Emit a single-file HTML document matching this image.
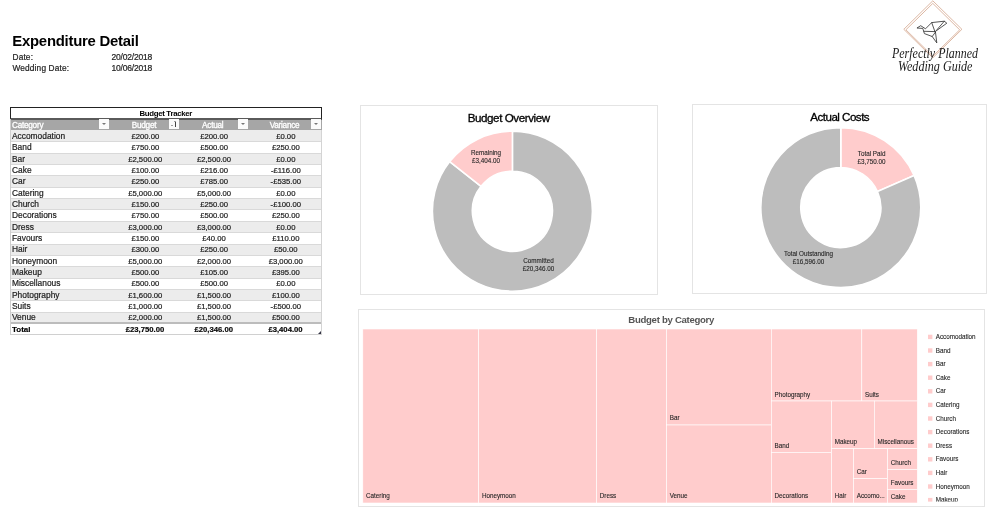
<!DOCTYPE html>
<html lang="en"><head><meta charset="utf-8"><title>Expenditure Detail</title>
<style>
html,body{margin:0;padding:0;background:#fff;}
body{width:1005px;height:513px;position:relative;overflow:hidden;font-family:"Liberation Sans",sans-serif;color:#1a1a1a;}
.abs{position:absolute;white-space:nowrap;}
h1{position:absolute;margin:0;left:12.3px;top:32.6px;font-size:14.9px;letter-spacing:-0.245px;line-height:16px;font-weight:bold;color:#000;white-space:nowrap;}
.lbl{position:absolute;font-size:8.3px;letter-spacing:0.15px;line-height:11px;white-space:nowrap;color:#222;-webkit-text-stroke:0.2px #222;}
.num{font-size:8.5px;letter-spacing:-0.19px;}
.tbl{position:absolute;left:0;top:0;}
.row{position:absolute;left:10px;width:311.5px;height:11.34px;box-shadow:inset 0 1px 0 #d9d9d9;}
.row.odd{background:#ececec;}
.row.even{background:#fff;}
.c{position:absolute;top:0.9px;height:11.34px;line-height:11.6px;font-size:8.4px;white-space:nowrap;color:#1c1c1c;-webkit-text-stroke:0.2px #1c1c1c;}
.c.n{font-size:7.7px;text-align:center;}
.hd{position:absolute;top:120px;height:10px;-webkit-text-stroke:0.3px #fff;background:#a6a6a6;color:#fff;font-size:8.2px;letter-spacing:-0.25px;line-height:12.2px;overflow:hidden;white-space:nowrap;}
.btn{position:absolute;top:119px;width:10.2px;height:10px;background:#fbfbfb;}
.btn.dd:after{content:"";position:absolute;left:3.2px;top:4.4px;border-left:2px solid transparent;border-right:2px solid transparent;border-top:2px solid #777;}
.box{position:absolute;border:1px solid #e4e4e4;background:#fff;box-sizing:border-box;}
svg{position:absolute;left:0;top:0;}
svg text{font-family:"Liberation Sans",sans-serif;}
</style></head><body>

<h1>Expenditure Detail</h1>
<div class="lbl" style="left:12.5px;top:52.2px;">Date:</div>
<div class="lbl num" style="left:111.5px;top:52.2px;">20/02/2018</div>
<div class="lbl" style="left:12.5px;top:63.3px;">Wedding Date:</div>
<div class="lbl num" style="left:111.5px;top:63.3px;">10/06/2018</div>
<div class="abs" style="left:10px;top:107px;width:311.5px;height:13px;box-sizing:border-box;border:1px solid #222;border-bottom:2px solid #5a5a5a;background:#fff;text-align:center;font-weight:bold;font-size:7.8px;letter-spacing:-0.3px;line-height:11.6px;color:#000;">Budget Tracker</div>
<div class="hd" style="left:10px;width:100px;text-indent:2px;">Category</div>
<div class="hd" style="left:110px;width:68px;text-align:center;">Budget</div>
<div class="hd" style="left:178px;width:69.5px;text-align:center;">Actual</div>
<div class="hd" style="left:247.5px;width:74.0px;text-align:center;">Variance</div>
<div class="btn dd" style="left:98.8px;"></div>
<div class="btn" style="left:168.5px;"><i style="position:absolute;left:2.4px;top:6.2px;border-left:1.6px solid transparent;border-right:1.6px solid transparent;border-top:1.8px solid #444;"></i><i style="position:absolute;left:6.8px;top:2.6px;width:0.9px;height:5.2px;background:#444;"></i><i style="position:absolute;left:5.75px;top:2px;border-left:1.5px solid transparent;border-right:1.5px solid transparent;border-bottom:1.8px solid #444;"></i></div>
<div class="btn dd" style="left:237.5px;"></div>
<div class="btn dd" style="left:310.6px;"></div>
<div class="row odd" style="top:130.10px;box-shadow:none;">
<div class="c" style="left:2px;">Accomodation</div>
<div class="c n" style="left:101.3px;width:68px;">£200.00</div>
<div class="c n" style="left:169.3px;width:69.5px;">£200.00</div>
<div class="c n" style="left:238.8px;width:74.0px;">£0.00</div>
</div>
<div class="row even" style="top:141.44px;">
<div class="c" style="left:2px;">Band</div>
<div class="c n" style="left:101.3px;width:68px;">£750.00</div>
<div class="c n" style="left:169.3px;width:69.5px;">£500.00</div>
<div class="c n" style="left:238.8px;width:74.0px;">£250.00</div>
</div>
<div class="row odd" style="top:152.78px;">
<div class="c" style="left:2px;">Bar</div>
<div class="c n" style="left:101.3px;width:68px;">£2,500.00</div>
<div class="c n" style="left:169.3px;width:69.5px;">£2,500.00</div>
<div class="c n" style="left:238.8px;width:74.0px;">£0.00</div>
</div>
<div class="row even" style="top:164.12px;">
<div class="c" style="left:2px;">Cake</div>
<div class="c n" style="left:101.3px;width:68px;">£100.00</div>
<div class="c n" style="left:169.3px;width:69.5px;">£216.00</div>
<div class="c n" style="left:238.8px;width:74.0px;">-£116.00</div>
</div>
<div class="row odd" style="top:175.46px;">
<div class="c" style="left:2px;">Car</div>
<div class="c n" style="left:101.3px;width:68px;">£250.00</div>
<div class="c n" style="left:169.3px;width:69.5px;">£785.00</div>
<div class="c n" style="left:238.8px;width:74.0px;">-£535.00</div>
</div>
<div class="row even" style="top:186.80px;">
<div class="c" style="left:2px;">Catering</div>
<div class="c n" style="left:101.3px;width:68px;">£5,000.00</div>
<div class="c n" style="left:169.3px;width:69.5px;">£5,000.00</div>
<div class="c n" style="left:238.8px;width:74.0px;">£0.00</div>
</div>
<div class="row odd" style="top:198.14px;">
<div class="c" style="left:2px;">Church</div>
<div class="c n" style="left:101.3px;width:68px;">£150.00</div>
<div class="c n" style="left:169.3px;width:69.5px;">£250.00</div>
<div class="c n" style="left:238.8px;width:74.0px;">-£100.00</div>
</div>
<div class="row even" style="top:209.48px;">
<div class="c" style="left:2px;">Decorations</div>
<div class="c n" style="left:101.3px;width:68px;">£750.00</div>
<div class="c n" style="left:169.3px;width:69.5px;">£500.00</div>
<div class="c n" style="left:238.8px;width:74.0px;">£250.00</div>
</div>
<div class="row odd" style="top:220.82px;">
<div class="c" style="left:2px;">Dress</div>
<div class="c n" style="left:101.3px;width:68px;">£3,000.00</div>
<div class="c n" style="left:169.3px;width:69.5px;">£3,000.00</div>
<div class="c n" style="left:238.8px;width:74.0px;">£0.00</div>
</div>
<div class="row even" style="top:232.16px;">
<div class="c" style="left:2px;">Favours</div>
<div class="c n" style="left:101.3px;width:68px;">£150.00</div>
<div class="c n" style="left:169.3px;width:69.5px;">£40.00</div>
<div class="c n" style="left:238.8px;width:74.0px;">£110.00</div>
</div>
<div class="row odd" style="top:243.50px;">
<div class="c" style="left:2px;">Hair</div>
<div class="c n" style="left:101.3px;width:68px;">£300.00</div>
<div class="c n" style="left:169.3px;width:69.5px;">£250.00</div>
<div class="c n" style="left:238.8px;width:74.0px;">£50.00</div>
</div>
<div class="row even" style="top:254.84px;">
<div class="c" style="left:2px;">Honeymoon</div>
<div class="c n" style="left:101.3px;width:68px;">£5,000.00</div>
<div class="c n" style="left:169.3px;width:69.5px;">£2,000.00</div>
<div class="c n" style="left:238.8px;width:74.0px;">£3,000.00</div>
</div>
<div class="row odd" style="top:266.18px;">
<div class="c" style="left:2px;">Makeup</div>
<div class="c n" style="left:101.3px;width:68px;">£500.00</div>
<div class="c n" style="left:169.3px;width:69.5px;">£105.00</div>
<div class="c n" style="left:238.8px;width:74.0px;">£395.00</div>
</div>
<div class="row even" style="top:277.52px;">
<div class="c" style="left:2px;">Miscellanous</div>
<div class="c n" style="left:101.3px;width:68px;">£500.00</div>
<div class="c n" style="left:169.3px;width:69.5px;">£500.00</div>
<div class="c n" style="left:238.8px;width:74.0px;">£0.00</div>
</div>
<div class="row odd" style="top:288.86px;">
<div class="c" style="left:2px;">Photography</div>
<div class="c n" style="left:101.3px;width:68px;">£1,600.00</div>
<div class="c n" style="left:169.3px;width:69.5px;">£1,500.00</div>
<div class="c n" style="left:238.8px;width:74.0px;">£100.00</div>
</div>
<div class="row even" style="top:300.20px;">
<div class="c" style="left:2px;">Suits</div>
<div class="c n" style="left:101.3px;width:68px;">£1,000.00</div>
<div class="c n" style="left:169.3px;width:69.5px;">£1,500.00</div>
<div class="c n" style="left:238.8px;width:74.0px;">-£500.00</div>
</div>
<div class="row odd" style="top:311.54px;">
<div class="c" style="left:2px;">Venue</div>
<div class="c n" style="left:101.3px;width:68px;">£2,000.00</div>
<div class="c n" style="left:169.3px;width:69.5px;">£1,500.00</div>
<div class="c n" style="left:238.8px;width:74.0px;">£500.00</div>
</div>
<div class="row" style="top:322.28px;height:12.3px;background:#fff;border-top:2px solid #bcbcbc;border-bottom:1px solid #d0d0d0;font-weight:bold;box-sizing:border-box;box-shadow:none;">
<div class="c" style="left:2px;top:-0.5px;color:#000;font-size:8px;">Total</div>
<div class="c n" style="left:101px;width:68px;top:-0.5px;color:#000;">£23,750.00</div>
<div class="c n" style="left:169px;width:69.5px;top:-0.5px;color:#000;">£20,346.00</div>
<div class="c n" style="left:238.5px;width:74.0px;top:-0.5px;color:#000;">£3,404.00</div>
</div>
<div class="abs" style="left:10px;top:119px;width:1px;height:215.5px;background:#cfcfcf;"></div>
<div class="abs" style="left:321px;top:130px;width:1px;height:204.5px;background:#d4d4d4;"></div>
<div class="abs" style="left:318px;top:331px;width:0;height:0;border-left:3.5px solid transparent;border-bottom:3.5px solid #334;"></div>
<div class="box" style="left:360px;top:105px;width:298px;height:189.5px;"></div>
<div class="box" style="left:692px;top:104px;width:295px;height:189.5px;"></div>
<div class="box" style="left:358px;top:309px;width:626.5px;height:198.3px;"></div>
<svg width="1005" height="513" viewBox="0 0 1005 513">
<path d="M512.40 131.20A80 80 0 1 1 449.71 161.51L481.05 186.35A40 40 0 1 0 512.40 171.20Z" fill="#bdbdbd" stroke="#fff" stroke-width="1.6" stroke-linejoin="round"/><path d="M449.71 161.51A80 80 0 0 1 512.40 131.20L512.40 171.20A40 40 0 0 0 481.05 186.35Z" fill="#ffcccc" stroke="#fff" stroke-width="1.6" stroke-linejoin="round"/>
<path d="M840.80 127.60A80 80 0 0 1 914.08 175.51L877.44 191.56A40 40 0 0 0 840.80 167.60Z" fill="#ffcccc" stroke="#fff" stroke-width="1.6" stroke-linejoin="round"/><path d="M914.08 175.51A80 80 0 1 1 840.80 127.60L840.80 167.60A40 40 0 1 0 877.44 191.56Z" fill="#bdbdbd" stroke="#fff" stroke-width="1.6" stroke-linejoin="round"/>
<text x="508.7" y="122" text-anchor="middle" font-size="11.6" letter-spacing="-0.42" fill="#000" stroke="#000" stroke-width="0.3">Budget Overview</text>
<text x="839.7" y="120.8" text-anchor="middle" font-size="11.6" letter-spacing="-0.52" fill="#000" stroke="#000" stroke-width="0.3">Actual Costs</text>
<text x="486" y="155.0" text-anchor="middle" font-size="6.3" fill="#262626" stroke="#262626" stroke-width="0.1">Remaining</text>
<text x="486" y="163.1" text-anchor="middle" font-size="6.3" fill="#262626" stroke="#262626" stroke-width="0.1">£3,404.00</text>
<text x="538.5" y="263.0" text-anchor="middle" font-size="6.3" fill="#262626" stroke="#262626" stroke-width="0.1">Committed</text>
<text x="538.5" y="271.1" text-anchor="middle" font-size="6.3" fill="#262626" stroke="#262626" stroke-width="0.1">£20,346.00</text>
<text x="871.6" y="155.5" text-anchor="middle" font-size="6.3" fill="#262626" stroke="#262626" stroke-width="0.1">Total Paid</text>
<text x="871.6" y="163.6" text-anchor="middle" font-size="6.3" fill="#262626" stroke="#262626" stroke-width="0.1">£3,750.00</text>
<text x="808.5" y="255.5" text-anchor="middle" font-size="6.3" fill="#262626" stroke="#262626" stroke-width="0.1">Total Outstanding</text>
<text x="808.5" y="263.6" text-anchor="middle" font-size="6.3" fill="#262626" stroke="#262626" stroke-width="0.1">£16,596.00</text>
<text x="671.2" y="323" text-anchor="middle" font-size="9.6" letter-spacing="-0.3" font-weight="bold" fill="#555">Budget by Category</text>
<rect x="362.8" y="329" width="115.90" height="174.00" fill="#ffcccc" stroke="#fff" stroke-width="0.6"/>
<rect x="478.7" y="329" width="117.90" height="174.00" fill="#ffcccc" stroke="#fff" stroke-width="0.6"/>
<rect x="596.6" y="329" width="69.90" height="174.00" fill="#ffcccc" stroke="#fff" stroke-width="0.6"/>
<rect x="666.5" y="329" width="104.80" height="96.00" fill="#ffcccc" stroke="#fff" stroke-width="0.6"/>
<rect x="666.5" y="425" width="104.80" height="78.00" fill="#ffcccc" stroke="#fff" stroke-width="0.6"/>
<rect x="771.3" y="329" width="90.50" height="72.00" fill="#ffcccc" stroke="#fff" stroke-width="0.6"/>
<rect x="861.8" y="329" width="55.50" height="72.00" fill="#ffcccc" stroke="#fff" stroke-width="0.6"/>
<rect x="771.3" y="401" width="60.20" height="51.40" fill="#ffcccc" stroke="#fff" stroke-width="0.6"/>
<rect x="771.3" y="452.4" width="60.20" height="50.60" fill="#ffcccc" stroke="#fff" stroke-width="0.6"/>
<rect x="831.5" y="401" width="42.80" height="47.70" fill="#ffcccc" stroke="#fff" stroke-width="0.6"/>
<rect x="874.3" y="401" width="43.00" height="47.70" fill="#ffcccc" stroke="#fff" stroke-width="0.6"/>
<rect x="831.5" y="448.7" width="22.00" height="54.30" fill="#ffcccc" stroke="#fff" stroke-width="0.6"/>
<rect x="853.5" y="448.7" width="34.00" height="29.90" fill="#ffcccc" stroke="#fff" stroke-width="0.6"/>
<rect x="853.5" y="478.6" width="34.00" height="24.40" fill="#ffcccc" stroke="#fff" stroke-width="0.6"/>
<rect x="887.5" y="448.7" width="29.80" height="20.70" fill="#ffcccc" stroke="#fff" stroke-width="0.6"/>
<rect x="887.5" y="469.4" width="29.80" height="20.00" fill="#ffcccc" stroke="#fff" stroke-width="0.6"/>
<rect x="887.5" y="489.4" width="29.80" height="13.60" fill="#ffcccc" stroke="#fff" stroke-width="0.6"/>
<text x="366.0" y="497.8" font-size="6.3" fill="#262626" stroke="#262626" stroke-width="0.1">Catering</text>
<text x="481.9" y="497.8" font-size="6.3" fill="#262626" stroke="#262626" stroke-width="0.1">Honeymoon</text>
<text x="599.8" y="497.8" font-size="6.3" fill="#262626" stroke="#262626" stroke-width="0.1">Dress</text>
<text x="669.7" y="420.2" font-size="6.3" fill="#262626" stroke="#262626" stroke-width="0.1">Bar</text>
<text x="669.7" y="497.8" font-size="6.3" fill="#262626" stroke="#262626" stroke-width="0.1">Venue</text>
<text x="774.5" y="396.8" font-size="6.3" fill="#262626" stroke="#262626" stroke-width="0.1">Photography</text>
<text x="865.0" y="396.8" font-size="6.3" fill="#262626" stroke="#262626" stroke-width="0.1">Suits</text>
<text x="774.5" y="447.6" font-size="6.3" fill="#262626" stroke="#262626" stroke-width="0.1">Band</text>
<text x="774.5" y="497.8" font-size="6.3" fill="#262626" stroke="#262626" stroke-width="0.1">Decorations</text>
<text x="834.7" y="443.9" font-size="6.3" fill="#262626" stroke="#262626" stroke-width="0.1">Makeup</text>
<text x="877.5" y="443.9" font-size="6.3" fill="#262626" stroke="#262626" stroke-width="0.1">Miscellanous</text>
<text x="834.7" y="497.8" font-size="6.3" fill="#262626" stroke="#262626" stroke-width="0.1">Hair</text>
<text x="856.7" y="473.8" font-size="6.3" fill="#262626" stroke="#262626" stroke-width="0.1">Car</text>
<text x="856.7" y="497.8" font-size="6.3" fill="#262626" stroke="#262626" stroke-width="0.1">Accomo...</text>
<text x="890.7" y="464.6" font-size="6.3" fill="#262626" stroke="#262626" stroke-width="0.1">Church</text>
<text x="890.7" y="484.6" font-size="6.3" fill="#262626" stroke="#262626" stroke-width="0.1">Favours</text>
<text x="890.7" y="499.0" font-size="6.3" fill="#262626" stroke="#262626" stroke-width="0.1">Cake</text>
<rect x="928" y="334.7" width="4.4" height="4.4" fill="#ffcccc"/>
<text x="935.7" y="339.0" font-size="6.3" fill="#262626" stroke="#262626" stroke-width="0.1">Accomodation</text>
<rect x="928" y="348.3" width="4.4" height="4.4" fill="#ffcccc"/>
<text x="935.7" y="352.6" font-size="6.3" fill="#262626" stroke="#262626" stroke-width="0.1">Band</text>
<rect x="928" y="361.9" width="4.4" height="4.4" fill="#ffcccc"/>
<text x="935.7" y="366.2" font-size="6.3" fill="#262626" stroke="#262626" stroke-width="0.1">Bar</text>
<rect x="928" y="375.5" width="4.4" height="4.4" fill="#ffcccc"/>
<text x="935.7" y="379.8" font-size="6.3" fill="#262626" stroke="#262626" stroke-width="0.1">Cake</text>
<rect x="928" y="389.1" width="4.4" height="4.4" fill="#ffcccc"/>
<text x="935.7" y="393.4" font-size="6.3" fill="#262626" stroke="#262626" stroke-width="0.1">Car</text>
<rect x="928" y="402.7" width="4.4" height="4.4" fill="#ffcccc"/>
<text x="935.7" y="407.0" font-size="6.3" fill="#262626" stroke="#262626" stroke-width="0.1">Catering</text>
<rect x="928" y="416.3" width="4.4" height="4.4" fill="#ffcccc"/>
<text x="935.7" y="420.6" font-size="6.3" fill="#262626" stroke="#262626" stroke-width="0.1">Church</text>
<rect x="928" y="429.9" width="4.4" height="4.4" fill="#ffcccc"/>
<text x="935.7" y="434.2" font-size="6.3" fill="#262626" stroke="#262626" stroke-width="0.1">Decorations</text>
<rect x="928" y="443.5" width="4.4" height="4.4" fill="#ffcccc"/>
<text x="935.7" y="447.8" font-size="6.3" fill="#262626" stroke="#262626" stroke-width="0.1">Dress</text>
<rect x="928" y="457.1" width="4.4" height="4.4" fill="#ffcccc"/>
<text x="935.7" y="461.4" font-size="6.3" fill="#262626" stroke="#262626" stroke-width="0.1">Favours</text>
<rect x="928" y="470.7" width="4.4" height="4.4" fill="#ffcccc"/>
<text x="935.7" y="475.0" font-size="6.3" fill="#262626" stroke="#262626" stroke-width="0.1">Hair</text>
<rect x="928" y="484.3" width="4.4" height="4.4" fill="#ffcccc"/>
<text x="935.7" y="488.6" font-size="6.3" fill="#262626" stroke="#262626" stroke-width="0.1">Honeymoon</text>
<rect x="928" y="497.9" width="4.4" height="4.4" fill="#ffcccc"/>
<text x="935.7" y="502.2" font-size="6.3" fill="#262626" stroke="#262626" stroke-width="0.1">Makeup</text>
<rect x="926" y="501.6" width="56" height="4.5" fill="#fff"/>
<g fill="none" stroke="#d3a48c" stroke-width="0.8"><path d="M932.8 0.8L961.9 29.3L932.8 57.8L903.8 29.3Z"/><path d="M932.8 3.4L959.7 29.8L932.8 56.2L905.9 29.8Z"/></g>
<g fill="none" stroke="#2b2b2b" stroke-width="0.8" stroke-linejoin="round" stroke-linecap="round"><path d="M917.3 27.8L920.7 25.7L925.5 28.8L931.7 22.6L944.3 21.2L935.4 31.5L936.8 42.9L932.2 36.5L924.4 33.6L922.9 28.8Z"/><path d="M944.3 21.2L946.8 23.2L936.6 30.6"/><path d="M931.7 22.6L934.9 31.6M924 31.3L935.2 31.6M932.2 36.5L935.3 32.3"/></g>
<text x="892" y="57.8" textLength="86" lengthAdjust="spacingAndGlyphs" font-size="15" font-style="italic" fill="#1a1a1a" style="font-family:'Liberation Serif',serif;">Perfectly Planned</text>
<text x="898" y="71.3" textLength="74.5" lengthAdjust="spacingAndGlyphs" font-size="15" font-style="italic" fill="#1a1a1a" style="font-family:'Liberation Serif',serif;">Wedding Guide</text>
</svg>
</body></html>
